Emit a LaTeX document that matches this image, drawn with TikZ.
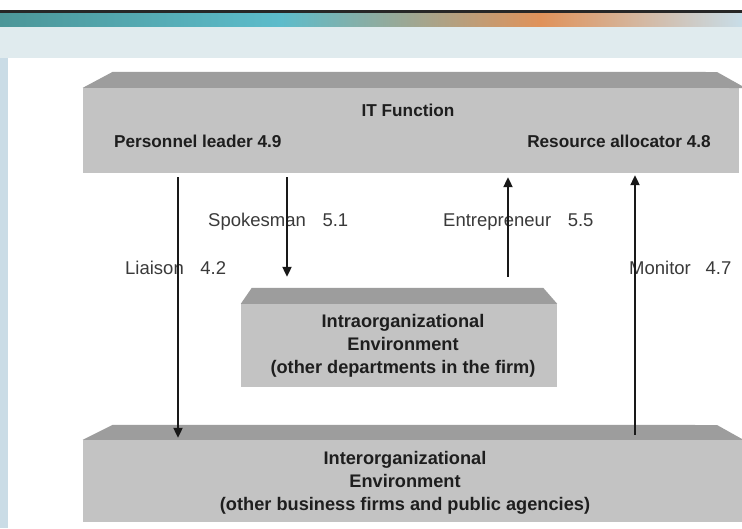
\documentclass[tikz,border=0pt]{standalone}
\usepackage{fontspec}
\setmainfont{Liberation Sans}
\usetikzlibrary{arrows.meta}

\definecolor{frontgray}{HTML}{C3C3C3}
\definecolor{topgray}{HTML}{9D9D9D}
\definecolor{textdark}{HTML}{1E1E1E}
\definecolor{labelgray}{HTML}{3A3A3A}
\definecolor{bannerpale}{HTML}{E0EBEE}
\definecolor{bannerteal}{HTML}{4C9698}
\definecolor{bannercyan}{HTML}{5CBCCB}
\definecolor{bannerorange}{HTML}{E0925A}
\definecolor{bannerblue}{HTML}{C8DDE8}
\definecolor{sidestrip}{HTML}{CADCE6}

\begin{document}
\begin{tikzpicture}[x=1pt, y=-1pt,
    front/.style={fill=frontgray, inner sep=0pt},
    topface/.style={fill=topgray},
    flow/.style={-{Triangle[length=10pt,width=9pt]}, line width=2.1pt, draw=black!90},
    lbl/.style={anchor=west, inner sep=0pt, text=labelgray, font=\fontsize{18.5}{22}\selectfont},
    headtxt/.style={inner sep=0pt, text=textdark, font=\bfseries\fontsize{17.2}{20}\selectfont},
    boxtxt/.style={align=center, inner sep=0pt, text=textdark, font=\bfseries\fontsize{18.2}{23}\selectfont}]

    \useasboundingbox (0,0) rectangle (742,528);

    % slide background
    \fill[white] (0,0) rectangle (742,528);
    \fill[bannerpale] (0,13) rectangle (742,58);
    \shade[left color=bannerteal, right color=bannercyan] (0,13) rectangle (280,26);
    \shade[left color=bannercyan, right color=bannerorange] (280,13) rectangle (540,26);
    \shade[left color=bannerorange, right color=bannerblue] (540,13) rectangle (742,26);
    \fill[black!85] (0,10) rectangle (742,13);
    \fill[sidestrip] (0,58) rectangle (8,528);

    % blocks
    \node[front, minimum width=656pt, minimum height=85pt] (itf) at (411,130.5) {};
    \fill[topface] (itf.north west) -- ++(30,-16) -- (717,72) -- (742,86) -- (742,88) -- cycle;

    \node[front, minimum width=316pt, minimum height=83pt] (intra) at (399,345.5) {};
    \fill[topface] (intra.north west) -- ++(11,-16) -- ([xshift=-14pt,yshift=16pt]intra.north east) -- (intra.north east) -- cycle;

    \node[front, minimum width=659pt, minimum height=82pt] (inter) at (412.5,481) {};
    \fill[topface] (inter.north west) -- ++(30,-15) -- (717,425) -- (742,439) -- (inter.north east) -- cycle;

    \node[headtxt] (itTitle) at (408,110) {IT Function};
    \node[headtxt, anchor=west] (leader) at (114,141) {Personnel leader 4.9};
    \node[headtxt, anchor=east] (allocator) at (711,141) {Resource allocator 4.8};
    \node[boxtxt] (intraTxt) at ([xshift=4pt]intra) {Intraorganizational\\Environment\\(other departments in the firm)};
    \node[boxtxt] (interTxt) at (405,483) {Interorganizational\\Environment\\(other business firms and public agencies)};

    % roles
    \node[lbl] (spokesman) at (208,222) {Spokesman\hspace{0.9em}5.1};
    \node[lbl] (entrepreneur) at (443,222) {Entrepreneur\hspace{0.9em}5.5};
    \node[lbl] (liaison) at (125,268) {Liaison\hspace{0.9em}4.2};
    \node[lbl] (monitor) at (629,268) {Monitor\hspace{0.8em}4.7};

    \coordinate (xLia) at (178,0);
    \coordinate (xSpk) at (287,0);
    \coordinate (xEnt) at (508,0);
    \coordinate (xMon) at (635,0);

    \draw[flow] ([yshift=-4pt]itf.south -| xLia) -- ([yshift=2pt]inter.north -| xLia);
    \draw[flow] ([yshift=-4pt]itf.south -| xSpk) -- ([yshift=27pt]intra.north -| xSpk);
    \draw[flow] ([yshift=27pt]intra.north -| xEnt) -- ([yshift=-4pt]itf.south -| xEnt);
    \draw[flow] ([yshift=5pt]inter.north -| xMon) -- ([yshift=-2pt]itf.south -| xMon);
\end{tikzpicture}
\end{document}
